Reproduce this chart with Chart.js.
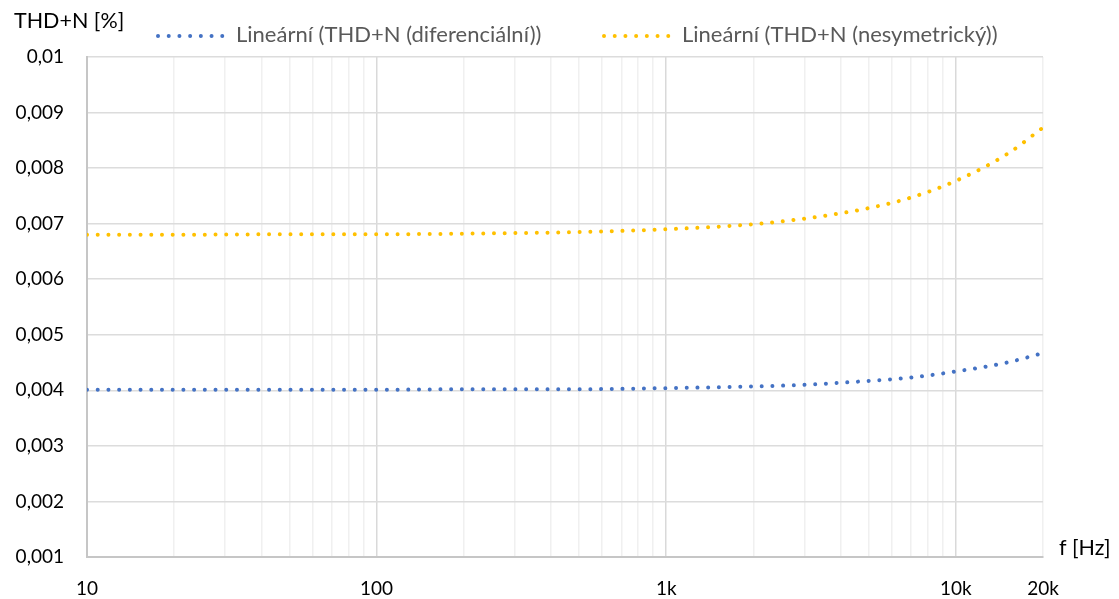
<!DOCTYPE html>
<html>
<head>
<meta charset="utf-8">
<script src="https://cdn.jsdelivr.net/npm/chart.js@4"></script>
<style>
  body { margin: 0; background: #fff; }
  #wrap { width: 1119px; height: 599px; }
</style>
</head>
<body>
<div id="wrap"><canvas id="thd" width="1119" height="599"></canvas></div>
<script>
// frequencies [Hz] and THD+N [%] (Excel linear trendlines)
const freqs = [10, 20, 50, 100, 200, 500, 1000, 2000, 3000, 5000, 7000, 10000, 15000, 20000];
const diffValues = [0.00401, 0.00401, 0.00401, 0.00401, 0.00402, 0.00402, 0.00404, 0.00407, 0.00410, 0.00417, 0.00423, 0.00434, 0.00450, 0.00467];
const singleValues = [0.00680, 0.00680, 0.00681, 0.00681, 0.00682, 0.00685, 0.00690, 0.00699, 0.00709, 0.00728, 0.00747, 0.00777, 0.00825, 0.00873];

const seriesNames = ["Lineární (THD+N (diferenciální))", "Lineární (THD+N (nesymetrický))"];
const seriesColors = ["#4472C4", "#FFC000"];

const gridFreqs = [10, 20, 30, 40, 50, 60, 70, 80, 90,
                   100, 200, 300, 400, 500, 600, 700, 800, 900,
                   1000, 2000, 3000, 4000, 5000, 6000, 7000, 8000, 9000,
                   10000, 20000];
const xTickLabels = { 10: "10", 100: "100", 1000: "1k", 10000: "10k", 20000: "20k" };

const yTitle = "THD+N [%]";
const xTitle = "f [Hz]";

const FONT = "Lato, 'Open Sans', sans-serif";
const DOT_DASH = [0.01, 10.7];

function isDecade(v) {
    const l = Math.log10(v);
    return Math.abs(l - Math.round(l)) < 1e-9;
}

const overlay = {
    id: "overlay",
    afterDraw(chart) {
        const ctx = chart.ctx;
        ctx.save();
        ctx.textBaseline = "middle";

        // axis titles
        ctx.fillStyle = "#000";
        ctx.font = "21.5px " + FONT;
        ctx.textAlign = "left";
        ctx.fillText(yTitle, 14, 21);
        ctx.fillText(xTitle, 1059, 548);

        // legend
        const legendX = [158, 604];
        seriesNames.forEach((name, i) => {
            ctx.beginPath();
            ctx.strokeStyle = seriesColors[i];
            ctx.lineWidth = 4;
            ctx.lineCap = "round";
            ctx.setLineDash(DOT_DASH);
            ctx.moveTo(legendX[i], 36);
            ctx.lineTo(legendX[i] + 65, 36);
            ctx.stroke();
            ctx.setLineDash([]);
            ctx.fillStyle = "#595959";
            ctx.font = "22px " + FONT;
            ctx.fillText(name, legendX[i] + 78, 35);
        });
        ctx.restore();
    }
};

const ctx = document.getElementById("thd").getContext("2d");

new Chart(ctx, {
    type: "line",
    data: {
        datasets: [
            {
                label: seriesNames[0],
                data: freqs.map((f, i) => ({ x: f, y: diffValues[i] })),
                borderColor: seriesColors[0],
                borderWidth: 4,
                borderCapStyle: "round",
                borderDash: DOT_DASH,
                pointRadius: 0,
                cubicInterpolationMode: "monotone",
                fill: false
            },
            {
                label: seriesNames[1],
                data: freqs.map((f, i) => ({ x: f, y: singleValues[i] })),
                borderColor: seriesColors[1],
                borderWidth: 4,
                borderCapStyle: "round",
                borderDash: DOT_DASH,
                pointRadius: 0,
                cubicInterpolationMode: "monotone",
                fill: false
            }
        ]
    },
    options: {
        responsive: false,
        animation: false,
        layout: { padding: { top: 57, right: 76, left: 0, bottom: 0 } },
        plugins: {
            legend: { display: false },
            tooltip: { enabled: false }
        },
        scales: {
            x: {
                type: "logarithmic",
                min: 10,
                max: 20000,
                afterBuildTicks: scale => {
                    scale.ticks = gridFreqs.map(v => ({ value: v }));
                },
                afterFit: scale => { scale.height = 42; },
                ticks: {
                    autoSkip: false,
                    maxRotation: 0,
                    padding: 20,
                    color: "#000",
                    font: { family: FONT, size: 19 },
                    callback: v => xTickLabels[v] || ""
                },
                grid: {
                    drawTicks: false,
                    color: c => isDecade(c.tick.value) ? "#d9d9d9" : "#f0f0f0",
                    lineWidth: 1.5
                },
                border: { color: "#c6c6c6", width: 2 }
            },
            y: {
                min: 0.001,
                max: 0.01,
                afterFit: scale => { scale.width = 87; },
                ticks: {
                    stepSize: 0.001,
                    padding: 23,
                    color: "#000",
                    font: { family: FONT, size: 19 },
                    callback: v => Number(v.toFixed(3)).toString().replace(".", ",")
                },
                grid: {
                    drawTicks: false,
                    color: "#dcdcdc",
                    lineWidth: 1.5
                },
                border: { color: "#c6c6c6", width: 2 }
            }
        }
    },
    plugins: [overlay]
});
</script>
</body>
</html>
